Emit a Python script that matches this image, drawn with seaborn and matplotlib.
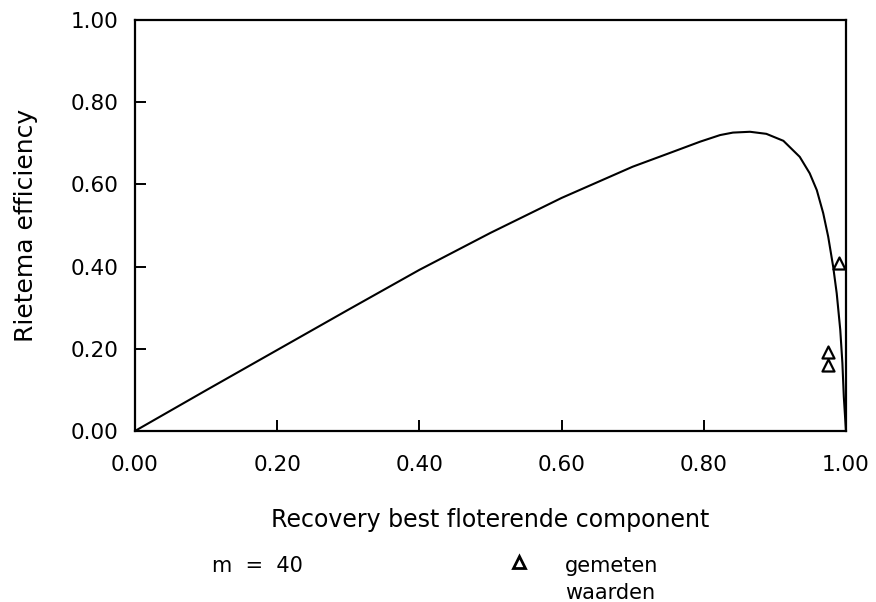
import numpy as np
import pandas as pd
import matplotlib
matplotlib.use("Agg")
import matplotlib.pyplot as plt
from matplotlib.lines import Line2D
import seaborn as sns

# Curve: Rietema efficiency vs recovery (m = 40)
recovery = [0.0, 0.1, 0.2, 0.3, 0.4, 0.5, 0.6, 0.7, 0.75, 0.795, 0.823, 0.841,
            0.865, 0.888, 0.912, 0.935, 0.949, 0.959, 0.968, 0.975, 0.982,
            0.987, 0.992, 0.995, 0.997, 1.0]
efficiency = [0.0, 0.099, 0.197, 0.295, 0.392, 0.482, 0.567, 0.643, 0.675,
              0.704, 0.720, 0.726, 0.728, 0.723, 0.706, 0.667, 0.627, 0.586,
              0.530, 0.473, 0.400, 0.335, 0.246, 0.165, 0.083, 0.0]

# Measured values (gemeten waarden)
meas_x = [0.990, 0.975, 0.975]
meas_y = [0.408, 0.193, 0.161]

xticks = [0.0, 0.2, 0.4, 0.6, 0.8, 1.0]
yticks = [0.0, 0.2, 0.4, 0.6, 0.8, 1.0]
ticklabels = ["0.00", "0.20", "0.40", "0.60", "0.80", "1.00"]

sns.set_style("ticks")
plt.rcParams["font.family"] = ["DejaVu Sans"]
plt.rcParams["text.color"] = "black"

fig = plt.figure(figsize=(8.76, 6.02), dpi=100)
ax = fig.add_axes([0.1541, 0.2841, 0.8116, 0.6827])

curve = pd.DataFrame({"x": recovery, "y": efficiency})
meas = pd.DataFrame({"x": meas_x, "y": meas_y})

sns.lineplot(data=curve, x="x", y="y", ax=ax, color="black", linewidth=1.5,
             sort=False, estimator=None)
sns.scatterplot(data=meas, x="x", y="y", ax=ax, marker="^", s=75,
                facecolor="white", edgecolor="black", linewidth=1.6, zorder=3)

ax.set_xlim(0, 1)
ax.set_ylim(0, 1)
ax.set_xticks(xticks)
ax.set_yticks(yticks)
ax.set_xticklabels(ticklabels)
ax.set_yticklabels(ticklabels)
ax.tick_params(direction="in", length=8, width=1.4, labelsize=15.5,
               colors="black")
ax.tick_params(axis="x", pad=17)
ax.tick_params(axis="y", pad=12)
for sp in ax.spines.values():
    sp.set_linewidth(1.6)
    sp.set_color("black")

ax.set_xlabel("Recovery best floterende component", fontsize=17, color="black")
ax.set_ylabel("Rietema efficiency", fontsize=18, color="black")
ax.xaxis.set_label_coords(0.5, -0.187)
ax.xaxis.label.set_va("top")
ax.yaxis.set_label_coords(-0.136, 0.5)

# Footer legend-like annotation
fig.text(212 / 876, 1 - 572 / 602, "m  =  40", fontsize=15, ha="left",
         va="baseline")
fig.add_artist(Line2D([519 / 876], [1 - 562 / 602], marker="^", markersize=9,
                      markerfacecolor="white", markeredgecolor="black",
                      markeredgewidth=2, linestyle="none",
                      transform=fig.transFigure))
fig.text(565 / 876, 1 - 572 / 602, "gemeten", fontsize=15, ha="left",
         va="baseline")
fig.text(565 / 876, 1 - 599 / 602, "waarden", fontsize=15, ha="left",
         va="baseline")

fig.savefig("out.png", dpi=100)
